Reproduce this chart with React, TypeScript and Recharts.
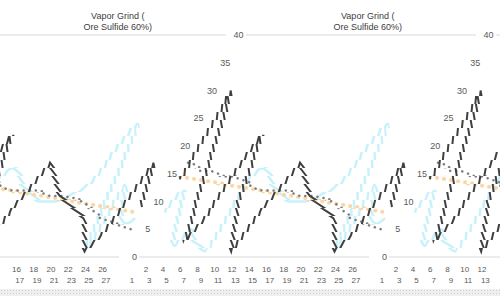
import React from 'react';
import { LineChart, Line, XAxis, YAxis, CartesianGrid } from 'recharts';

// sample number along the bottom axis
const categories = [
  '1', '2', '3', '4', '5', '6', '7', '8', '9', '10', '11', '12', '13', '14',
  '15', '16', '17', '18', '19', '20', '21', '22', '23', '24', '25', '26', '27',
];

// measured grind (dark line)
const measured = [14, 30, 21, 11, 3, 7, 16, 22, 10, 5, 1, 8, 12, 17, 15, 13, 11, 10, 9, 8, 7, 4, 1, 4, 10, 17, 9];

// smoothed reading (light cyan line)
const smoothed = [8, 12, 6, 2, 5, 3, 2, 1, 14, 16, 15, 13, 12, 11, 10, 10, 10, 11, 12, 14, 20, 24, 1, 13, 8, 6, 7];

// moving average (grey dots)
const movingAvg = [
  17, 16.5, 15.5, 15.5, 15, 14.5, 14.5, 14, 13.5, 12.5, 12, 12, 12, 12,
  11.5, 11, 11, 10.8, 10.5, 10, 9, 8, 7, 6.5, 6, 5.5, 5,
];

// linear trend (orange dots)
const trend = [
  14.5, 14.2, 14.0, 13.7, 13.5, 13.2, 13.0, 12.7, 12.5, 12.2, 12.0, 11.7, 11.5, 11.2,
  11.0, 10.7, 10.5, 10.2, 10.0, 9.7, 9.5, 9.2, 9.0, 8.7, 8.5, 8.2, 8.0,
];

const yTicks = [0, 5, 10, 15, 20, 25, 30, 35, 40];

const titleLines = ['Vapor Grind (', 'Ore Sulfide 60%)'];

const data = categories.map((c, i) => ({
  cat: c,
  measured: measured[i],
  smoothed: smoothed[i],
  movingAvg: movingAvg[i],
  trend: trend[i],
}));

// the picture is sheared: every band of rows is pushed sideways and wraps around
const W = 500;
const H = 296;
const TILE = 250;
const STRIP = 8;
const SLOPE = 0.48;
const BASE_Y = 257;
const BASE_X = 128;
const COPIES = [-1, 0, 1];
const FONT = '"Liberation Sans", Arial, sans-serif';
const MARGIN = { top: 35, right: 8, bottom: 0, left: 0 };

const shear = (y: number) => SLOPE * (BASE_Y - y);
const onPage = (a: number, b: number) => a >= 1 && b <= W - 1;

// lines and grid only; text is drawn once in the overlay below
function PlotTile() {
  return (
    <LineChart width={TILE} height={H} data={data} margin={MARGIN}>
      <CartesianGrid vertical={false} stroke="#d9d9d9" />
      <XAxis dataKey="cat" height={39} tick={false} tickLine={false} axisLine={false} padding={{ left: 3, right: 3 }} />
      <YAxis width={12} domain={[0, 40]} ticks={yTicks} tick={false} tickLine={false} axisLine={false} />
      <Line type="monotone" dataKey="smoothed" stroke="#c8f2fb" strokeWidth={2.5} dot={false} isAnimationActive={false} />
      <Line
        type="linear" dataKey="trend" stroke="#fcd7a6" strokeWidth={4}
        strokeDasharray="0.1 7" strokeLinecap="round" dot={false} isAnimationActive={false}
      />
      <Line
        type="monotone" dataKey="movingAvg" stroke="#7f7f7f" strokeWidth={2.5}
        strokeDasharray="0.1 6" strokeLinecap="round" dot={false} isAnimationActive={false}
      />
      <Line type="linear" dataKey="measured" stroke="#404040" strokeWidth={2} dot={false} isAnimationActive={false} />
    </LineChart>
  );
}

function TextTile({ offset }: { offset: number }) {
  const xTick = (props: any) => {
    const { x, y, payload, index } = props;
    const ty = y + (index % 2 === 0 ? 26 : 15);
    const tx = x + shear(ty - 3);
    if (!onPage(offset + tx - 6, offset + tx + 6)) return <g />;
    return (
      <text x={tx} y={ty} textAnchor="middle" fontSize={8} fill="#595959" fontFamily={FONT}>
        {payload.value}
      </text>
    );
  };
  const yTick = (props: any) => {
    const { x, y, payload } = props;
    const tx = x + shear(y);
    if (!onPage(offset + tx - 11, offset + tx)) return <g />;
    return (
      <text x={tx} y={y} dy="0.355em" textAnchor="end" fontSize={9} fill="#595959" fontFamily={FONT}>
        {payload.value}
      </text>
    );
  };
  const titleLeft = offset + shear(18);
  const showTitle = onPage(titleLeft + TILE / 2 - 45, titleLeft + TILE / 2 + 45);
  return (
    <>
      {showTitle && (
        <div style={{
          position: 'absolute', top: 11, left: titleLeft, width: TILE, textAlign: 'center',
          fontSize: 9, lineHeight: '10.5px', color: '#404040', fontFamily: FONT,
        }}>
          {titleLines.map((t) => <div key={t}>{t}</div>)}
        </div>
      )}
      <div style={{ position: 'absolute', left: offset, top: 0 }}>
        <LineChart width={TILE} height={H} data={data} margin={MARGIN} style={{ overflow: 'visible' }}>
          <XAxis
            dataKey="cat" interval={0} height={39} tickLine={false} axisLine={false}
            tickSize={0} tickMargin={0} padding={{ left: 3, right: 3 }} tick={xTick}
          />
          <YAxis
            width={12} domain={[0, 40]} ticks={yTicks} tickLine={false} axisLine={false}
            tickSize={0} tickMargin={3} tick={yTick}
          />
          <Line dataKey="trend" stroke="none" dot={false} isAnimationActive={false} />
        </LineChart>
      </div>
    </>
  );
}

export default function App() {
  const strips = Array.from({ length: Math.ceil(H / STRIP) }, (_, i) => i);
  return (
    <div style={{ position: 'fixed', left: 0, top: 0, width: W, height: H, overflow: 'hidden', background: '#fff' }}>
      {strips.map((i) => {
        const top = i * STRIP;
        const shift = Math.round(shear(top + STRIP / 2));
        return (
          <div key={i} style={{ position: 'absolute', left: 0, top, width: W, height: STRIP, overflow: 'hidden' }}>
            {COPIES.map((k) => (
              <div key={k} style={{ position: 'absolute', left: BASE_X + shift + k * TILE, top: -top }}>
                <PlotTile />
              </div>
            ))}
          </div>
        );
      })}
      {COPIES.map((k) => <TextTile key={k} offset={BASE_X + k * TILE} />)}
      <div style={{
        position: 'absolute', left: 0, top: 289, width: W, height: 7,
        backgroundImage: 'radial-gradient(#d0d0d0 0.8px, #efefef 0.9px)', backgroundSize: '3px 3px',
      }} />
    </div>
  );
}
